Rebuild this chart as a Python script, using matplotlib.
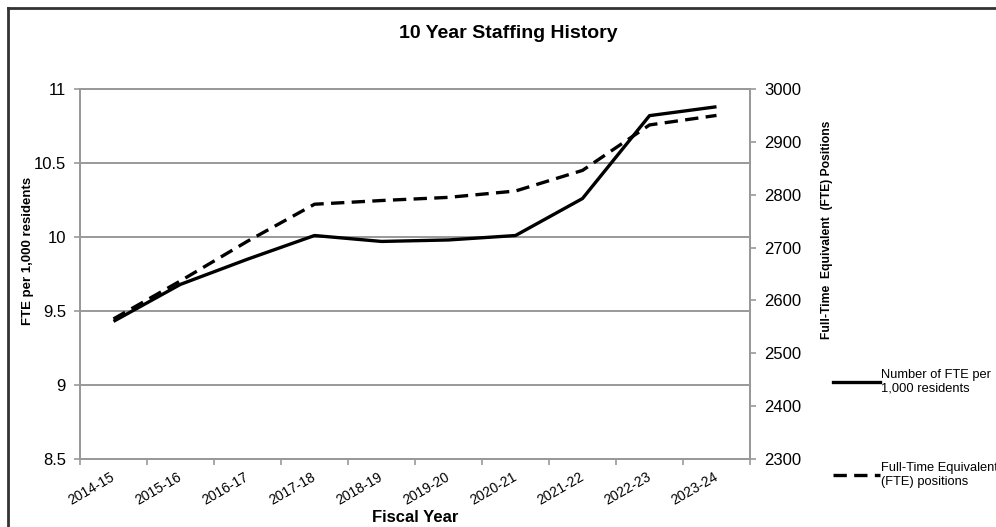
import matplotlib.pyplot as plt
from matplotlib.lines import Line2D

plt.rcParams['font.family'] = ['Liberation Sans', 'DejaVu Sans']

# data
years = ["2014-15", "2015-16", "2016-17", "2017-18", "2018-19",
         "2019-20", "2020-21", "2021-22", "2022-23", "2023-24"]
fte_per_1000 = [9.43, 9.68, 9.85, 10.01, 9.97, 9.98, 10.01, 10.26, 10.82, 10.88]
fte_positions = [2565, 2637, 2712, 2782, 2789, 2795, 2807, 2846, 2932, 2950]

fig = plt.figure(figsize=(9.96, 5.27), dpi=100)
ax = fig.add_axes([80 / 996, 1 - 459 / 527, 670 / 996, 370 / 527])
ax2 = ax.twinx()

x = list(range(len(years)))
grid_c = "#999999"

ax.plot(x, fte_per_1000, color="black", lw=2.4, solid_capstyle="butt", zorder=3)
ax2.plot(x, fte_positions, color="black", lw=2.4, dashes=(4, 2.2), zorder=3)

ax.set_xlim(-0.5, len(years) - 0.5)
ax.set_ylim(8.5, 11)
ax.set_yticks([8.5, 9, 9.5, 10, 10.5, 11])
ax.set_yticklabels(["8.5", "9", "9.5", "10", "10.5", "11"], fontsize=12)
ax2.set_ylim(2300, 3000)
ax2.set_yticks(range(2300, 3001, 100))
ax2.tick_params(axis="y", labelsize=12, colors=grid_c, labelcolor="black", length=4, width=1.2, pad=6)
ax.tick_params(axis="y", colors=grid_c, labelcolor="black", length=4, width=1.2, pad=6)

ax.set_xticks([i + 0.5 for i in range(-1, len(years))], minor=False)
ax.set_xticklabels([])
ax.set_xticks(x, minor=True)
ax.set_xticklabels(years, minor=True, rotation=30, ha="right", va="center",
                   rotation_mode="anchor", fontsize=10)
ax.tick_params(axis="x", which="major", colors=grid_c, length=4, width=1.2)
ax.tick_params(axis="x", which="minor", length=0, pad=12)

ax.yaxis.grid(True, color=grid_c, lw=1.4)
ax.set_axisbelow(True)
for a in (ax, ax2):
    for s in a.spines.values():
        s.set_color(grid_c)
        s.set_linewidth(1.4)

ax.set_xlabel("Fiscal Year", fontsize=12, fontweight="bold")
ax.xaxis.set_label_coords(0.5, (459 - 510) / 370)
ax.set_ylabel("FTE per 1,000 residents", fontsize=9.5, fontweight="bold")
ax.yaxis.set_label_coords((34 - 80) / 670, (459 - 251) / 370)
ax2.set_ylabel("Full-Time  Equivalent  (FTE) Positions", fontsize=8.7, fontweight="bold")
ax2.yaxis.set_label_coords((821 - 80) / 670, (459 - 230) / 370)
fig.text(508 / 996, 1 - 33 / 527, "10 Year Staffing History", ha="center", va="center",
         fontsize=14, fontweight="bold")

handles = [Line2D([], [], color="black", lw=2.4),
           Line2D([], [], color="black", lw=2.4, dashes=(4, 2.2))]
labels = ["Number of FTE per\n1,000 residents", "Full-Time Equivalent\n(FTE) positions"]
fig.legend(handles, labels, loc="upper left", bbox_to_anchor=(828 / 996, 1 - 364 / 527),
           frameon=False, fontsize=9.3, handlelength=3.6, handletextpad=0.1,
           labelspacing=5.2, borderaxespad=0)

# outer frame (only top and left edges visible)
fig.add_artist(Line2D([8 / 996, 8 / 996], [0, 1 - 8 / 527], transform=fig.transFigure,
                      color="#333333", lw=2))
fig.add_artist(Line2D([8 / 996, 1], [1 - 8 / 527, 1 - 8 / 527], transform=fig.transFigure,
                      color="#333333", lw=2))

fig.savefig("out.png", dpi=100)
